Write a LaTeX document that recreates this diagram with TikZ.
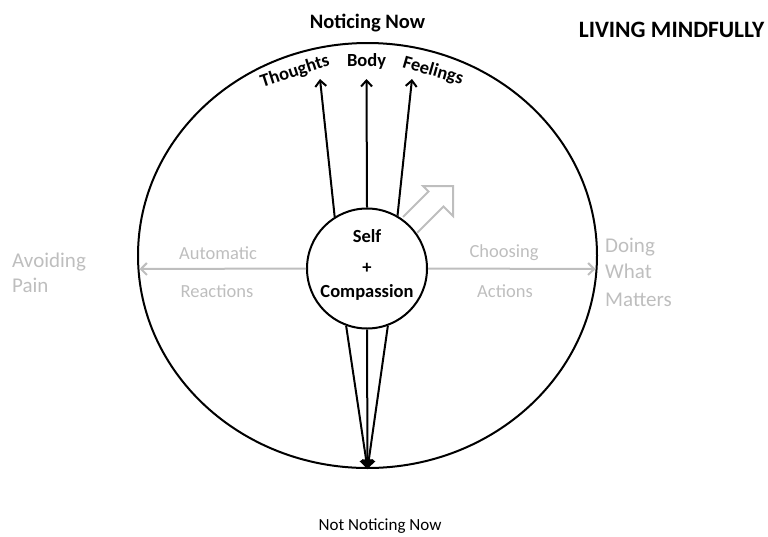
\documentclass[tikz,border=0pt]{standalone}
\usepackage{fontspec}
\setmainfont{Carlito}
\usetikzlibrary{arrows.meta,shapes.geometric}
\definecolor{lg}{RGB}{190,190,190}
\tikzset{
  blk/.style={line width=2pt,black},
  gry/.style={line width=2pt,lg},
  topar/.style={blk,-{Straight Barb[length=6pt,width=11pt,line width=2pt]}},
  botar/.style={blk,-{Triangle[length=9pt,width=13pt]}},
  gar/.style={gry,-{Straight Barb[length=6pt,width=12pt,line width=2pt]}},
  lab/.style={font=\fontsize{18.5}{22}\selectfont\bfseries,inner sep=0},
  gbig/.style={font=\fontsize{21}{26}\selectfont,text=lg,inner sep=0,anchor=base west},
  gsmall/.style={font=\fontsize{18.5}{22}\selectfont,text=lg,inner sep=0,anchor=base},
}
\begin{document}
\begin{tikzpicture}[x=1pt,y=-1pt]
\useasboundingbox (0,0) rectangle (768,536);
% big ellipse
\node[ellipse,draw,blk,minimum width=459pt,minimum height=425pt,inner sep=0] (big) at (367.5,255.5) {};
% inner circle
\node[circle,draw,blk,minimum size=120pt,inner sep=0] (self) at (367,268.5) {};
\node[lab,anchor=base] (tself) at (367,242) {Self};
\node[lab] (tplus) at (367,268) {+};
\node[lab,anchor=base] (tcomp) at (367,297) {Compassion};
% top arrows
\coordinate (tt) at (320,79);
\coordinate (tb) at (366.5,79);
\coordinate (tf) at (412,79);
\draw[topar] (self.122) -- (tt);
\draw[topar] (self.90) -- (tb);
\draw[topar] (self.60) -- (tf);
% bottom arrows
\draw[botar] (self.250) -- (big.south);
\draw[botar] (self.270) -- (big.south);
\draw[botar] (self.290) -- (big.south);
% left / right gray arrows
\coordinate (lend) at (139.5,269);
\coordinate (rend) at (595.5,269);
\draw[gar] (self.west) -- (lend);
\draw[gar] (self.east) -- (rend);
% hollow gray arrow
\draw[gry,line join=miter] (403,217) -- (428.5,191.5) -- (423,186) -- (453,186) -- (453,216) -- (443.5,206.5) -- (417,233);
% labels
\node[font=\fontsize{20.5}{24}\selectfont\bfseries,inner sep=0,anchor=base] (nn) at (367.5,28) {Noticing Now};
\node[font=\fontsize{23.5}{28}\selectfont\bfseries,inner sep=0,anchor=base] (lm) at (671.5,37) {LIVING MINDFULLY};
\node[font=\fontsize{17}{20}\selectfont,inner sep=0,anchor=base] (nnn) at (380,530) {Not Noticing Now};
\node[lab,rotate=18] (th) at (295,72) {Thoughts};
\node[lab,anchor=base] (bo) at (366.5,66) {Body};
\node[lab,rotate=-16] (fe) at (433,71) {Feelings};
\node[gbig] (av) at (12,267) {Avoiding};
\node[gbig] (pa) at (12,292) {Pain};
\node[gbig] (do) at (605,252) {Doing};
\node[gbig] (wh) at (605,278) {What};
\node[gbig] (ma) at (605,306) {Matters};
\node[gsmall] (au) at (218,259) {Automatic};
\node[gsmall] (re) at (217,297) {Reactions};
\node[gsmall] (ch) at (504,257) {Choosing};
\node[gsmall] (ac) at (505,297) {Actions};
\end{tikzpicture}
\end{document}
